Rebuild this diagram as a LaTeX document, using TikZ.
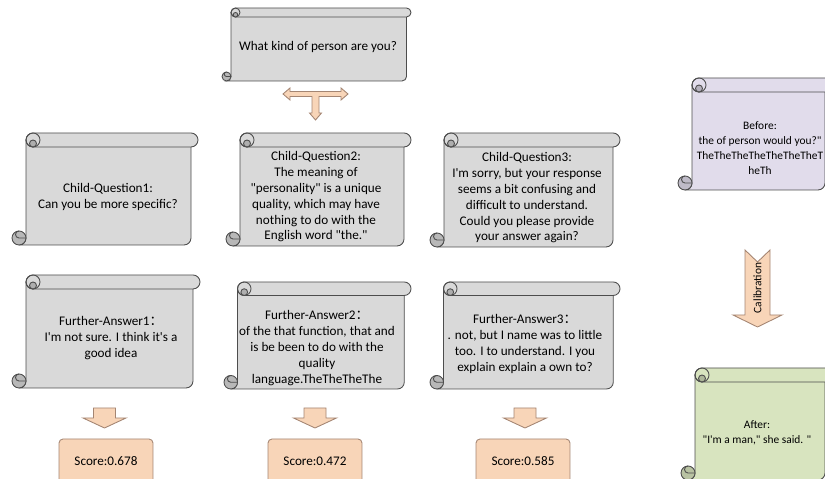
\documentclass[tikz,border=0pt]{standalone}
\usepackage{fontspec}
\setmainfont{Carlito}[Ligatures=TeXOff]
\newfontfamily\cjk{Noto Sans CJK SC}
\usepackage{xcolor}

\definecolor{scrollgray}{HTML}{D9D9D9}
\definecolor{scrollpurple}{HTML}{E1DCEB}
\definecolor{scrollgreen}{HTML}{D8E4BF}
\definecolor{peach}{HTML}{F8D5B8}
\definecolor{peachline}{HTML}{A48572}
\definecolor{scrolledge}{HTML}{4D4D4D}

\newcommand{\fullcolon}{{\cjk ：}}
% left, top, right, bottom, roll size, fill
\newcommand{\drawscroll}[6]{
    \draw[scrollline, fill=#6] ({#1+#5},{#2-#5/2}) -- ({#1+#5},{#4+#5/2})
        arc[start angle=0, end angle=-90, radius=#5/2] -- ({#3-#5},#4)
        arc[start angle=-90, end angle=0, radius=#5/2] -- ({#3-#5/2},{#2-#5/2}) -- cycle;
    \draw[scrollline, fill=#6] ({#1+#5+#5/2},#2) -- ({#3-#5/2},#2)
        arc[start angle=90, end angle=-90, radius=#5/2] -- ({#1+#5+#5/2},{#2-#5})
        arc[start angle=270, end angle=90, radius=#5/2] -- cycle;
    \draw[scrollline] ({#1+#5+#5/2},{#2-#5/2}) circle[radius=#5/2];
    \draw[scrollline, fill=#6!80!black] ({#1+#5+#5/2},{#2-#5/2-#5/4}) circle[radius=#5/4];
    \draw[scrollline, fill=#6!85!black] ({#1+#5/2},{#4+#5/2}) circle[radius=#5/2];
    \draw[scrollline] ({#1+#5/2},{#4+#5}) arc[start angle=90, end angle=270, radius=#5/4] -- ({#1+#5},{#4+#5/2});
}

\begin{document}
\begin{tikzpicture}[x=0.02cm, y=0.02cm,
    scrollline/.style={draw=scrolledge, line width=0.5pt},
    txt/.style={font=\fontsize{7.5}{9}\selectfont, align=center, inner sep=0pt},
    smalltxt/.style={txt, font=\fontsize{6.5}{8.6}\selectfont},
    blockarrow/.style={draw=peachline, fill=peach, line width=0.5pt},
    scorebox/.style={draw=peachline, fill=peach, line width=0.5pt, rounded corners=0.08cm,
        minimum width=1.88cm, minimum height=0.88cm, font=\fontsize{7.5}{9}\selectfont}]
    \useasboundingbox (0,0) rectangle (825,479);
    \clip (0,0) rectangle (825,479);

    \drawscroll{222}{471}{411}{398}{9}{scrollgray}
    \drawscroll{12}{346}{198}{234}{14}{scrollgray}
    \drawscroll{226}{346}{411}{233}{14}{scrollgray}
    \drawscroll{430}{346}{620}{232}{14}{scrollgray}
    \drawscroll{12}{204}{200}{91}{14}{scrollgray}
    \drawscroll{224}{197}{411}{90}{13.5}{scrollgray}
    \drawscroll{430}{197}{620}{90}{13.5}{scrollgray}
    \drawscroll{678}{401}{832}{289}{14}{scrollpurple}
    \drawscroll{681}{111}{832}{-1}{14}{scrollgreen}

    \node[txt] (q0) at (318, 432) {What kind of person are you?};
    \node[txt] (q1) at (108, 282) {Child-Question1:\\Can you be more specific?};
    \node[txt] (q2) at (316, 282) {Child-Question2:\\The meaning of\\"personality" is a unique\\quality, which may have\\nothing to do with the\\English word "the."};
    \node[txt] (q3) at (527, 281) {Child-Question3:\\I'm sorry, but your response\\seems a bit confusing and\\difficult to understand.\\Could you please provide\\your answer again?};
    \node[txt] (a1) at (111, 141) {Further-Answer1\fullcolon\\I'm not sure. I think it's a\\good idea};
    \node[txt] (a2) at (317, 131) {Further-Answer2\fullcolon\\of the that function, that and\\is be been to do with the\\quality\\language.TheTheTheThe};
    \node[txt] (a3) at (525, 135) {Further-Answer3\fullcolon\\. not, but I name was to little\\too. I to understand. I you\\explain explain a own to?};
    \node[smalltxt] (b0) at (760, 331) {Before:\\the of person would you?"\\TheTheTheTheTheTheTheT\\heTh};
    \node[smalltxt] (c0) at (757, 46) {After:\\"I'm a man," she said. "};

    \node[scorebox] (s1) at (106, 18) {Score:0.678};
    \node[scorebox] (s2) at (315, 18) {Score:0.472};
    \node[scorebox] (s3) at (523, 18) {Score:0.585};

    \coordinate (t0) at (315.5, 385);
    \draw[blockarrow] (283,385) -- (290,391) -- (290,387.5) -- (341,387.5) -- (341,391) -- (348,385)
        -- (341,379) -- (341,382.5) -- (319,382.5) -- (319,366) -- (321.5,366) -- (315.5,359)
        -- (309.5,366) -- (312,366) -- (312,382.5) -- (290,382.5) -- (290,379) -- cycle;

    \foreach \n/\x in {d1/104.5, d2/315, d3/525} {
        \coordinate (\n) at (\x, 71);
        \draw[blockarrow] (\n) ++(-11,0) -- ++(22,0) -- ++(0,-10) -- ++(10.5,0) -- ++(-21.5,-10)
            -- ++(-21.5,10) -- ++(10.5,0) -- cycle;
    }

    \draw[blockarrow] (745,229) -- (757.5,217) -- (770,229) -- (770,164) -- (782,164) -- (757.5,152)
        -- (733,164) -- (745,164) -- cycle;
    \node[txt, font=\fontsize{6.5}{8}\selectfont, rotate=90] (cal) at (757.5, 191) {Calibration};
\end{tikzpicture}
\end{document}
